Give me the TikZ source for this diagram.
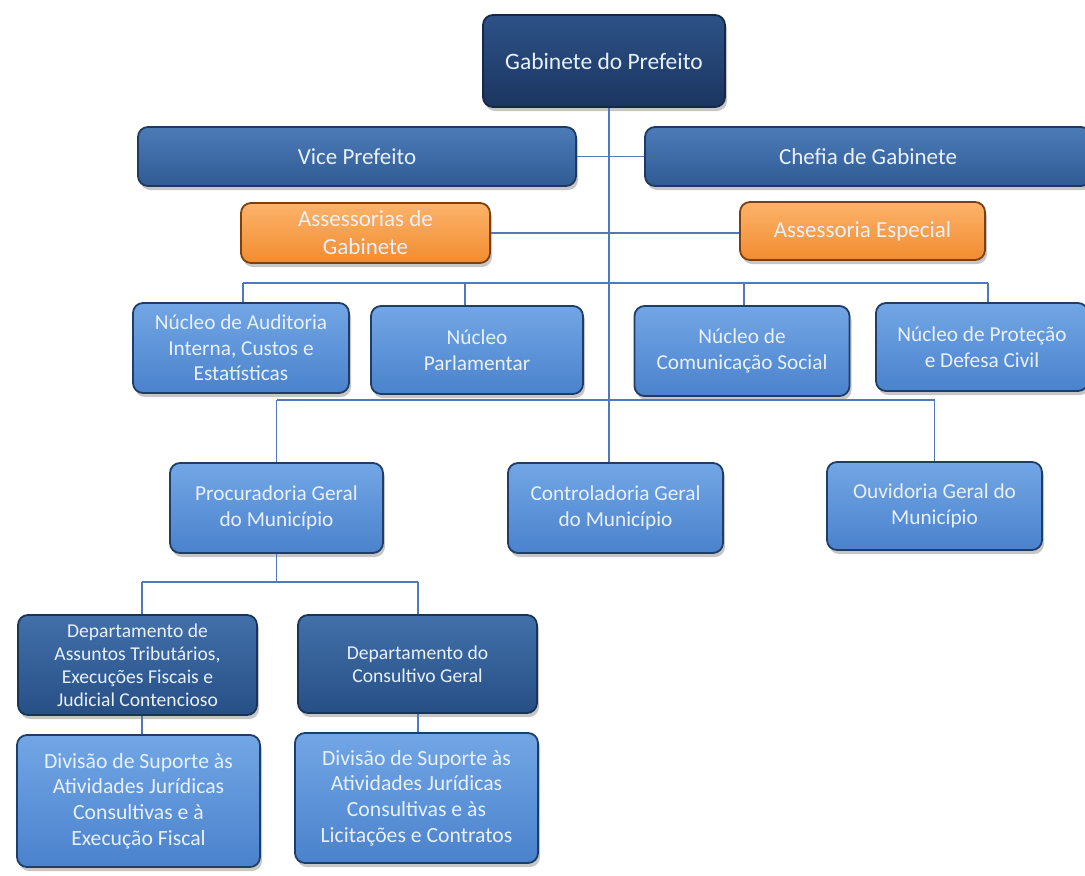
\documentclass[tikz,border=0pt]{standalone}
\usepackage{fontspec}
\setmainfont{Carlito}
\usetikzlibrary{shadows}
\definecolor{txt}{HTML}{E8F0FA}
\definecolor{lineC}{HTML}{4F79B8}
\definecolor{gabT}{HTML}{2D5287}\definecolor{gabB}{HTML}{1B3560}\definecolor{gabD}{HTML}{14294A}
\definecolor{viceT}{HTML}{4C7BB8}\definecolor{viceB}{HTML}{305B93}\definecolor{viceD}{HTML}{1F3A60}
\definecolor{nucT}{HTML}{72A6E5}\definecolor{nucB}{HTML}{4A82CC}\definecolor{nucD}{HTML}{1F3D66}
\definecolor{depT}{HTML}{4370AA}\definecolor{depB}{HTML}{264F85}\definecolor{depD}{HTML}{183558}
\definecolor{orT}{HTML}{FCB36A}\definecolor{orB}{HTML}{F28C30}\definecolor{orD}{HTML}{7A400E}
\tikzset{
  box/.style={rounded corners=10pt, line width=1.8pt, align=center, inner sep=2pt,
    text=txt, drop shadow={shadow xshift=2pt, shadow yshift=-4pt, opacity=0.45}},
  gabbox/.style={box, top color=gabT, bottom color=gabB, draw=gabD, font=\fontsize{23.5}{28}\selectfont},
  vicebox/.style={box, top color=viceT, bottom color=viceB, draw=viceD, font=\fontsize{23}{28}\selectfont},
  nucbox/.style={box, top color=nucT, bottom color=nucB, draw=nucD, font=\fontsize{21.3}{25.5}\selectfont},
  depbox/.style={box, top color=depT, bottom color=depB, draw=depD, font=\fontsize{19.6}{23}\selectfont},
  divbox/.style={box, top color=nucT, bottom color=nucB, draw=nucD, font=\fontsize{21.7}{25.7}\selectfont},
  orbox/.style={box, top color=orT, bottom color=orB, draw=orD, font=\fontsize{23}{28}\selectfont},
  conn/.style={draw=lineC, line width=1.7pt}
}
\begin{document}
\begin{tikzpicture}[x=1pt,y=-1pt]
\useasboundingbox (0,0) rectangle (1085,876);
\coordinate (busN) at (0,283);
\coordinate (busP) at (0,400);
\coordinate (busD) at (0,582);
\coordinate (tx) at (609,0);
\coordinate (nx1) at (243,0);
\coordinate (nx2) at (465,0);
\coordinate (nx3) at (744,0);
\coordinate (nx4) at (988,0);
\coordinate (dx1) at (142,0);
\coordinate (dx2) at (418,0);
% nodes
\node[gabbox, minimum width=242pt, minimum height=92pt] (gab) at (604,61) {Gabinete do Prefeito};
\node[vicebox, minimum width=438pt, minimum height=59pt] (vice) at (357,156.5) {Vice Prefeito};
\node[vicebox, minimum width=446pt, minimum height=59pt] (chefia) at (868,156.5) {Chefia de Gabinete};
\node[orbox, minimum width=249pt, minimum height=60pt] (assG) at (365.5,233) {Assessorias de\\Gabinete};
\node[orbox, minimum width=245pt, minimum height=58pt] (assE) at (862.5,231) {Assessoria Especial};
\node[nucbox, minimum width=216pt, minimum height=90pt] (n1) at (241,348) {Núcleo de Auditoria\\Interna, Custos e\\Estatísticas};
\node[nucbox, minimum width=212pt, minimum height=88pt] (n2) at (477,350) {Núcleo\\Parlamentar};
\node[nucbox, minimum width=215pt, minimum height=90pt] (n3) at (742,351) {Núcleo de\\Comunicação Social};
\node[nucbox, minimum width=212pt, minimum height=88pt] (n4) at (982,347) {Núcleo de Proteção\\e Defesa Civil};
\node[nucbox, minimum width=213pt, minimum height=90pt] (proc) at (276.5,508) {Procuradoria Geral\\do Município};
\node[nucbox, minimum width=215pt, minimum height=90pt] (cont) at (615.5,508) {Controladoria Geral\\do Município};
\node[nucbox, minimum width=215pt, minimum height=88pt] (ouv) at (934.5,506) {Ouvidoria Geral do\\Município};
\node[depbox, minimum width=239pt, minimum height=100pt] (d1) at (137.5,665) {Departamento de\\Assuntos Tributários,\\Execuções Fiscais e\\Judicial Contencioso};
\node[depbox, minimum width=239pt, minimum height=98pt] (d2) at (417.5,664) {Departamento do\\Consultivo Geral};
\node[divbox, minimum width=243pt, minimum height=132pt] (v1) at (138.5,801) {Divisão de Suporte às\\Atividades Jurídicas\\Consultivas e à\\Execução Fiscal};
\node[divbox, minimum width=243pt, minimum height=130pt] (v2) at (416.5,798) {Divisão de Suporte às\\Atividades Jurídicas\\Consultivas e às\\Licitações e Contratos};
% connectors
\path[conn] (tx |- gab.south) -- (tx |- cont.north);
\path[conn] (vice.east) -- (chefia.west);
\path[conn] (assG.east) -- (assE.west |- assG.east);
\path[conn] (nx1 |- busN) -- (nx4 |- busN);
\path[conn] (nx1 |- n1.north) -- (nx1 |- busN);
\path[conn] (nx2 |- n2.north) -- (nx2 |- busN);
\path[conn] (nx3 |- n3.north) -- (nx3 |- busN);
\path[conn] (nx4 |- n4.north) -- (nx4 |- busN);
\path[conn] (proc.north |- busP) -- (ouv.north |- busP);
\path[conn] (proc.north) -- (proc.north |- busP);
\path[conn] (ouv.north) -- (ouv.north |- busP);
\path[conn] (proc.south) -- (proc.south |- busD);
\path[conn] (dx1 |- busD) -- (dx2 |- busD);
\path[conn] (dx1 |- d1.north) -- (dx1 |- busD);
\path[conn] (dx2 |- d2.north) -- (dx2 |- busD);
\path[conn] (dx1 |- d1.south) -- (dx1 |- v1.north);
\path[conn] (dx2 |- d2.south) -- (dx2 |- v2.north);
\end{tikzpicture}
\end{document}
